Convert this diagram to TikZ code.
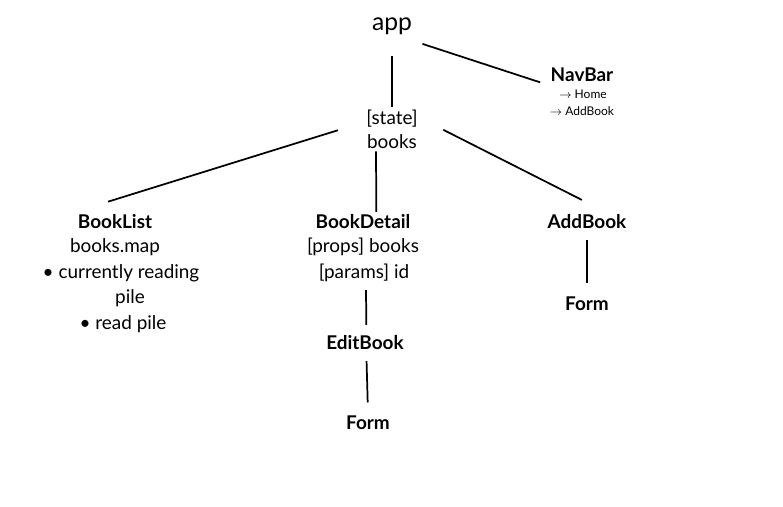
\documentclass[tikz,border=0pt]{standalone}
\usepackage{fontspec}
\setmainfont{Lato}
\usepackage{tikz}

\tikzset{
  title/.style={font=\bfseries\fontsize{14.2}{17}\selectfont, inner sep=2pt},
  body/.style={font=\fontsize{14.2}{17}\selectfont, inner sep=2pt},
  big/.style={font=\fontsize{18.5}{22}\selectfont, inner sep=2pt},
  small/.style={font=\fontsize{9}{11}\selectfont, inner sep=1pt},
  edge/.style={line width=1.3pt}
}

\begin{document}
\begin{tikzpicture}[x=0.75pt,y=0.75pt,yscale=-1,xscale=1]
\path[use as bounding box] (0,0) rectangle (783,507);

% Text Node
\node[big] (app) at (392,26) {app};
\node[body, align=center] (state) at (392,129) {[state]\\[1pt]books};
\node[title] (navbar) at (582,75) {NavBar};
\node[small] (home) at (583,94) {$\to$ Home};
\node[small] (addlink) at (582,111) {$\to$ AddBook};

\node[title] (booklist) at (115,222) {BookList};
\node[body] (map) at (115,247) {books.map};
\node[body] (reading) at (121,273) {\textbullet\ currently reading};
\node[body] (pile) at (130,298) {pile};
\node[body] (readpile) at (123,324) {\textbullet\ read pile};

\node[title] (detail) at (363,222) {BookDetail};
\node[body] (props) at (363,247) {[props] books};
\node[body] (params) at (364,273) {[params] id};
\node[title] (editbook) at (365,343) {EditBook};
\node[title] (editform) at (368,423) {Form};

\node[title] (addbook) at (587,222) {AddBook};
\node[title] (addform) at (587,304) {Form};

%Straight Lines
\draw[edge, shorten <=14pt] (app) -- (state);
\draw[edge, shorten <=6pt, shorten >=6pt] ([yshift=3pt]app.south east) -- (navbar.south west);
\draw[edge, shorten <=20pt, shorten >=26pt] ([yshift=-5pt]state.west) -- (booklist.north west);
\draw[edge] ([xshift=-12pt]state.south) -- ([xshift=10pt]detail.north);
\draw[edge, shorten <=19pt, shorten >=20pt] ([yshift=-8pt]state.east) -- ([xshift=14pt]addbook.north);
\draw[edge, shorten <=4pt, shorten >=6pt] ([xshift=1.5pt]params.south) -- ([xshift=1pt]editbook.north);
\draw[edge, shorten <=6pt, shorten >=8pt] ([xshift=1pt]editbook.south) -- (editform.north);
\draw[edge, shorten <=6pt, shorten >=8pt] (addbook) -- (addform);

\end{tikzpicture}
\end{document}
